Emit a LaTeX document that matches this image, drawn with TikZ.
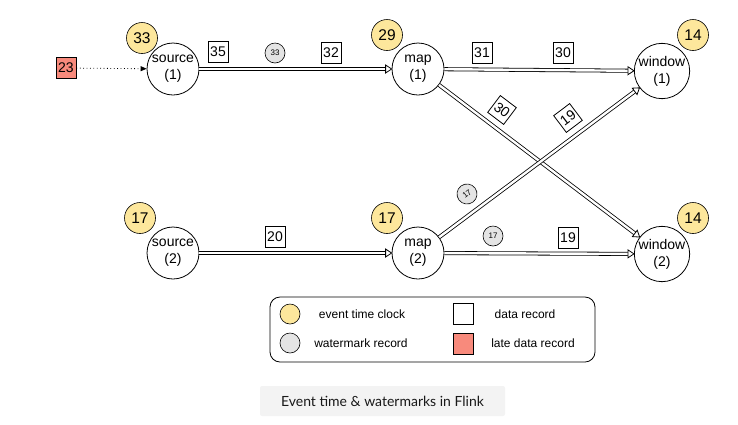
\documentclass[tikz,border=0pt]{standalone}
\usepackage{fontspec}
\setmainfont{Liberation Sans}
\newfontfamily\capfont{Lato}
\usetikzlibrary{arrows.meta,decorations.markings}
\definecolor{clockyellow}{RGB}{253,231,156}
\definecolor{wmgrey}{RGB}{228,228,228}
\definecolor{latered}{RGB}{248,138,124}
\definecolor{capgrey}{RGB}{243,243,243}
\begin{document}
\begin{tikzpicture}[x=1pt,y=-1pt,
  proc/.style={circle, draw, line width=0.8pt, fill=white, minimum size=52pt, inner sep=0pt, align=center, font=\fontsize{14}{17}\selectfont},
  clock/.style={circle, draw, line width=0.6pt, fill=clockyellow, minimum size=31pt, inner sep=0pt, font=\fontsize{15.5}{16}\selectfont},
  rec/.style={draw, line width=0.8pt, fill=white, minimum width=20pt, minimum height=21pt, inner sep=0pt, font=\fontsize{14}{14}\selectfont},
  wm/.style={circle, draw, line width=0.6pt, fill=wmgrey, minimum size=20pt, inner sep=0pt, font=\fontsize{8}{8}\selectfont},
  late/.style={rec, fill=latered},
  flow/.style={draw, double, double distance=2.4pt, line width=0.8pt, shorten >=5.5pt},
  headmark/.style={postaction={decorate, decoration={markings, mark=at position 1 with {\draw[line width=0.8pt, fill=white] (0pt,0pt) -- (-6pt,4pt) -- (-6pt,-4pt) -- cycle;}}}},
  legtext/.style={font=\fontsize{12}{12}\selectfont, inner sep=0pt}
]
\useasboundingbox (0,0) rectangle (738,424);

% processes
\node[proc] (s1) at (173,69) {source\\(1)};
\node[proc] (m1) at (418,69) {map\\(1)};
\node[proc] (w1) at (662,71) {window\\(1)};
\node[proc] (s2) at (173,253) {source\\(2)};
\node[proc] (m2) at (418,253) {map\\(2)};
\node[proc] (w2) at (662,254) {window\\(2)};

% connectors
\draw[flow] (s1) -- (m1); \path[headmark] (s1) -- (m1);
\draw[flow] (m1) -- (w1); \path[headmark] (m1) -- (w1);
\draw[flow] (m1) -- (w2); \path[headmark] (m1) -- (w2);
\draw[flow] (m2) -- (w1); \path[headmark] (m2) -- (w1);
\draw[flow] (s2) -- (m2); \path[headmark] (s2) -- (m2);
\draw[flow] (m2) -- (w2); \path[headmark] (m2) -- (w2);

% late record
\node[late] (l23) at (66,68) {23};
\draw[line width=0.8pt, dash pattern=on 0.8pt off 2.6pt, -{Triangle[length=6pt,width=5pt]}] (l23) -- (s1);

% clocks
\node[clock] (c1) at (142,38) {33};
\node[clock] (c2) at (387,35) {29};
\node[clock] (c3) at (693,35) {14};
\node[clock] (c4) at (140,218) {17};
\node[clock] (c5) at (387,218) {17};
\node[clock] (c6) at (693,218) {14};

% records
\node[rec] (r35) at (218,52) {35};
\node[wm]  (k33) at (275,53) {33};
\node[rec] (r32) at (331,53) {32};
\node[rec] (r31) at (482,53) {31};
\node[rec] (r30) at (563,53) {30};
\node[rec, rotate=-37] (r30b) at (502,110) {30};
\node[rec, rotate=37] (r19b) at (568,118) {19};
\node[wm, rotate=37] (k17b) at (467,194) {17};
\node[rec] (r20) at (275,237) {20};
\node[wm]  (k17) at (493,236) {17};
\node[rec] (r19) at (568,238) {19};

% legend
\node[draw, line width=0.8pt, rounded corners=10pt, minimum width=325pt, minimum height=65pt] (legend) at (432.5,329.5) {};
\node[circle, draw, line width=0.6pt, fill=clockyellow, minimum size=20pt, inner sep=0pt] (lc) at (290,314) {};
\node[legtext] (lct) at (362,314) {event time clock};
\node[circle, draw, line width=0.6pt, fill=wmgrey, minimum size=20pt, inner sep=0pt] (lw) at (290,343) {};
\node[legtext] (lwt) at (361,343) {watermark record};
\node[rec] (lr) at (463,314) {};
\node[legtext] (lrt) at (525,314) {data record};
\node[late] (ll) at (463,344) {};
\node[legtext] (llt) at (533,343) {late data record};

% caption
\node[fill=capgrey, rounded corners=2pt, minimum width=245pt, minimum height=30pt, inner sep=0pt, text=black!90, font=\capfont\fontsize{14}{14}\selectfont] (cap) at (382.5,401) {Event time \& watermarks in Flink};
\end{tikzpicture}
\end{document}
